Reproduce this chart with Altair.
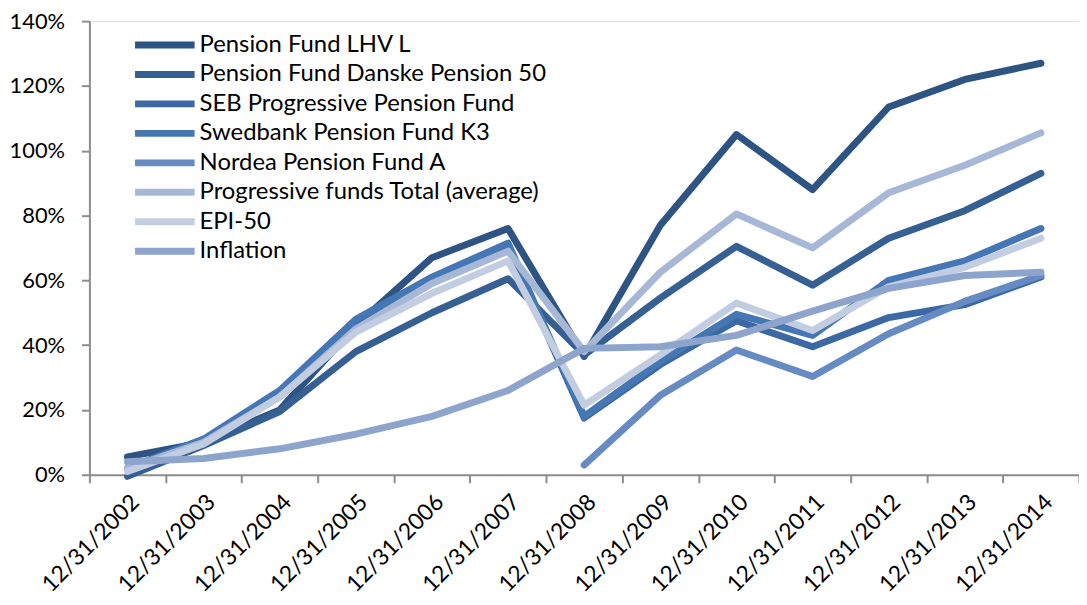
import altair as alt
import pandas as pd

dates = ["12/31/2002", "12/31/2003", "12/31/2004", "12/31/2005", "12/31/2006",
         "12/31/2007", "12/31/2008", "12/31/2009", "12/31/2010", "12/31/2011",
         "12/31/2012", "12/31/2013", "12/31/2014"]

series_names = ["Pension Fund LHV L", "Pension Fund Danske Pension 50",
                "SEB Progressive Pension Fund", "Swedbank Pension Fund K3",
                "Nordea Pension Fund A", "Progressive funds Total (average)",
                "EPI-50", "Inflation"]

lhv = [5.5, 10, 20, 46, 67, 76, 36.5, 77, 105, 88, 113.5, 122, 127]
danske = [-0.5, 9, 19.5, 38, 50, 60.5, 37, 54.5, 70.5, 58.5, 73, 81.5, 93]
seb = [2, 10, 24.5, 46, 60, 70.5, 17.5, 34, 47.5, 39.5, 48.5, 52.5, 61]
swedbank = [2, 11, 26, 48, 61, 71.5, 18, 35, 49.5, 43, 60, 66, 76]
nordea = [None, None, None, None, None, None, 3, 24.5, 38.5, 30.3, 43.5, 53.5, 61.5]
prog_avg = [2, 10, 24, 45, 59, 69, 38, 62.5, 80.5, 70, 87, 95.5, 105.5]
epi50 = [1, 9.5, 24, 44, 56, 66, 21.5, 37, 53, 44.5, 58, 64, 73]
inflation = [4, 5, 8, 12.5, 18, 26, 39, 39.5, 43, 50.5, 57.5, 61.5, 62.5]

colors = ["#2E5484", "#365F93", "#3C69A3", "#4677B5", "#668BC3",
          "#A7B8D6", "#C3CDE2", "#8DA5CC"]

all_series = [lhv, danske, seb, swedbank, nordea, prog_avg, epi50, inflation]

rows = []
for i, (name, vals) in enumerate(zip(series_names, all_series)):
    for d, v in zip(dates, vals):
        if v is not None:
            rows.append({"date": d, "series": name, "value": v / 100.0, "order": i})
df = pd.DataFrame(rows)

FONT = "Lato"

lines = alt.Chart(df).mark_line(strokeWidth=7, strokeCap="round", strokeJoin="round", clip=False).encode(
    x=alt.X("date:O", sort=dates,
            scale=alt.Scale(type="band", paddingInner=0, paddingOuter=0),
            axis=alt.Axis(title=None, labelAngle=-45, labelAlign="right", labelBaseline="top",
                          labelFontSize=23, labelFont=FONT, labelColor="#000000",
                          tickBand="extent", tickSize=8, tickColor="#8C8C8C", tickWidth=2,
                          domainColor="#8C8C8C", domainWidth=2, labelPadding=8, grid=False)),
    y=alt.Y("value:Q", scale=alt.Scale(domain=[0, 1.4], nice=False, zero=False),
            axis=alt.Axis(title=None, values=[0, 0.2, 0.4, 0.6, 0.8, 1.0, 1.2, 1.4], format=".0%",
                          labelFontSize=22, labelFont=FONT, labelColor="#000000",
                          tickSize=8, tickColor="#8C8C8C", tickWidth=2,
                          domainColor="#8C8C8C", domainWidth=2, labelPadding=17, grid=False)),
    color=alt.Color("series:N", sort=series_names,
                    scale=alt.Scale(domain=series_names, range=colors),
                    legend=alt.Legend(title=None, orient="none", legendX=64, legendY=12,
                                      symbolType="M-5,0H5", symbolSize=144, symbolStrokeWidth=7,
                                      labelFontSize=24, labelFont=FONT, labelColor="#000000",
                                      labelLimit=600, rowPadding=1.7, labelOffset=23)),
    order=alt.Order("order:Q"),
    detail="series:N",
)

chart = lines.properties(
    width=997, height=457,
    autosize=alt.AutoSizeParams(type="none"),
    padding={"left": 82, "top": 11, "right": 0, "bottom": 125},
).configure_view(stroke=None).configure(background="#ffffff")

chart.save("out.html", embed_options={"renderer": "svg", "actions": False})
